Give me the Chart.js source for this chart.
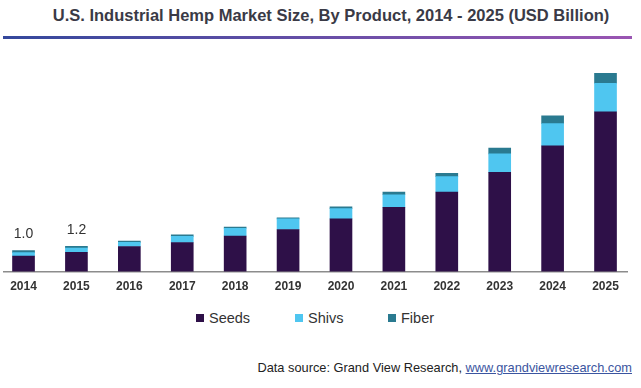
<!DOCTYPE html>
<html>
<head>
<meta charset="utf-8">
<script src="https://cdn.jsdelivr.net/npm/chart.js@4"></script>
<style>
  body { margin: 0; background: #fff; font-family: "Liberation Sans", Arial, sans-serif; }
  #wrap { position: relative; width: 641px; height: 388px; overflow: hidden; }
  #title { position: absolute; top: 6px; left: 0; width: 662px; text-align: center; font-weight: bold; font-size: 16.5px; color: #3a3a46; }
  #rule { position: absolute; top: 36px; left: 3px; width: 629px; height: 3px; background: linear-gradient(to right, #34489c, #9a55b2); }
  #chart-box { position: absolute; top: 40px; left: 0; width: 641px; height: 268px; }
  #legend { position: absolute; top: 309px; left: 0; width: 641px; height: 18px; font-size: 14.5px; color: #333; }
  .item { position: absolute; top: 0; line-height: 18px; }
  .item i { display: inline-block; width: 8px; height: 8px; margin-right: 5px; vertical-align: 1px; }
  #source { position: absolute; top: 360px; right: 9px; font-size: 12.8px; color: #222; }
  #source a { color: #3b55a0; text-decoration: underline; }
</style>
</head>
<body>
<div id="wrap">
  <div id="title">U.S. Industrial Hemp Market Size, By Product, 2014 - 2025 (USD Billion)</div>
  <div id="rule"></div>
  <div id="chart-box"><canvas id="market-chart"></canvas></div>
  <div id="legend"></div>
  <div id="source">Data source: Grand View Research, <a>www.grandviewresearch.com</a></div>
</div>
<script>
const years = [2014, 2015, 2016, 2017, 2018, 2019, 2020, 2021, 2022, 2023, 2024, 2025];
const seeds = [0.74, 0.92, 1.19, 1.38, 1.69, 2.00, 2.50, 3.05, 3.78, 4.71, 5.97, 7.59];
const shivs = [0.16, 0.20, 0.20, 0.29, 0.37, 0.50, 0.49, 0.60, 0.73, 0.88, 1.06, 1.35];
const fiber = [0.10, 0.08, 0.06, 0.08, 0.05, 0.05, 0.08, 0.13, 0.16, 0.27, 0.37, 0.48];
const seriesNames = ["Seeds", "Shivs", "Fiber"];
const seriesColors = ["#2e1048", "#4fc6f0", "#2a7a90"];
const totalLabels = ["1.0", "1.2", "", "", "", "", "", "", "", "", "", ""];

function toPoints(values) {
  return values.map((v, i) => ({ x: years[i], y: v }));
}

const datasets = [seeds, shivs, fiber].map((values, i) => ({
  label: seriesNames[i],
  data: toPoints(values),
  backgroundColor: seriesColors[i],
  borderWidth: 0,
  barThickness: 22
}));

// labels above the stacks (only the first two years carry one)
const totalLabelPlugin = {
  id: "totalLabels",
  afterDatasetsDraw(chart) {
    const ctx = chart.ctx;
    const xs = chart.scales.x;
    const ys = chart.scales.y;
    ctx.save();
    ctx.font = "14px 'Liberation Sans', Arial, sans-serif";
    ctx.fillStyle = "#333";
    ctx.textAlign = "center";
    ctx.textBaseline = "middle";
    years.forEach((year, i) => {
      if (!totalLabels[i]) return;
      const total = seeds[i] + shivs[i] + fiber[i];
      ctx.fillText(totalLabels[i], xs.getPixelForValue(year), ys.getPixelForValue(total) - 16);
    });
    ctx.restore();
  }
};

new Chart(document.querySelector("#market-chart"), {
  type: "bar",
  data: { datasets: datasets },
  options: {
    responsive: true,
    maintainAspectRatio: false,
    animation: false,
    layout: { padding: { top: 21, left: 4, right: 14, bottom: 6 } },
    scales: {
      x: {
        type: "linear",
        stacked: true,
        offset: false,
        min: 2013.631,
        max: 2025.406,
        afterBuildTicks: scale => {
          scale.ticks = years.map(y => ({ value: y }));
        },
        grid: { display: false, drawTicks: false },
        border: { display: true, color: "#8c8c8c", width: 1.5 },
        ticks: {
          autoSkip: false,
          maxRotation: 0,
          padding: 8,
          color: "#333",
          font: { family: "'Liberation Sans', Arial, sans-serif", size: 12, weight: "bold" },
          callback: value => String(value)
        }
      },
      y: {
        stacked: true,
        display: false,
        min: 0,
        max: 10
      }
    },
    plugins: {
      legend: { display: false },
      tooltip: { enabled: false }
    }
  },
  plugins: [totalLabelPlugin]
});

// legend below the axis
const legend = document.querySelector("#legend");
const legendX = [196, 295, 388];
seriesNames.forEach((name, i) => {
  const item = document.createElement("div");
  item.className = "item";
  item.style.left = legendX[i] + "px";
  item.innerHTML = `<i style="background:${seriesColors[i]}"></i>${name}`;
  legend.appendChild(item);
});
</script>
</body>
</html>
